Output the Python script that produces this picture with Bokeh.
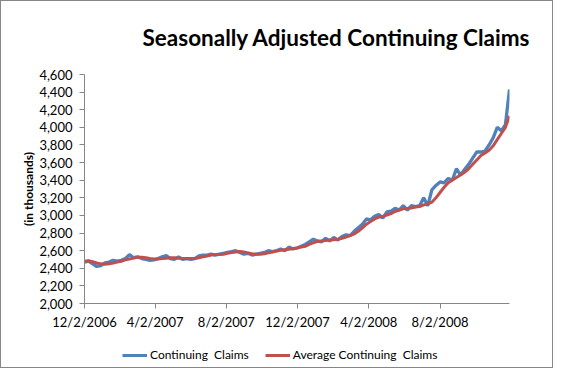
from datetime import date, timedelta, datetime
from bokeh.plotting import figure
from bokeh.layouts import column
from bokeh.models import (FixedTicker, NumeralTickFormatter, Legend, LegendItem,
                          ColumnDataSource, Title, Range1d)
from bokeh.embed import file_html
from bokeh.resources import INLINE

title_text = "Seasonally Adjusted Continuing Claims"
y_label = "(in thousands)"
series_names = ["Continuing  Claims", "Average Continuing  Claims"]
series_colors = ["#4F81BD", "#C0504D"]

start_date = date(2006, 12, 2)
n_weeks = 105

continuing_claims = [
    2470, 2480, 2450, 2420, 2430, 2460, 2470, 2490, 2480, 2490,
    2510, 2555, 2520, 2530, 2510, 2500, 2490, 2495, 2510, 2530,
    2545, 2510, 2500, 2530, 2500, 2510, 2500, 2510, 2540,
    2550, 2550, 2560, 2550, 2560, 2570, 2580, 2590, 2600, 2580,
    2560, 2570, 2550, 2560, 2570, 2580, 2600, 2590, 2600, 2620,
    2600, 2640, 2620, 2630, 2650, 2670, 2700, 2730, 2710, 2700,
    2740, 2710, 2750, 2720, 2760, 2780, 2770, 2820, 2860, 2900,
    2960, 2950, 2990, 3010, 2970, 3040, 3050, 3080, 3060, 3110,
    3060, 3110, 3100, 3110, 3200, 3110, 3290, 3340, 3380, 3370,
    3420, 3400, 3530, 3460, 3520, 3580, 3650, 3720, 3720, 3730,
    3800, 3880, 4000, 3960, 4030, 4430,
]

average_claims = [
    2480, 2485, 2475, 2460, 2450, 2445, 2450, 2460, 2470, 2480,
    2495, 2505, 2515, 2525, 2525, 2520, 2510, 2505, 2505, 2510,
    2515, 2520, 2520, 2515, 2510, 2510, 2510, 2510, 2520,
    2530, 2540, 2550, 2555, 2555, 2560, 2570, 2580, 2585, 2590,
    2585, 2575, 2565, 2560, 2560, 2565, 2575, 2585, 2595, 2605,
    2610, 2615, 2625, 2630, 2640, 2650, 2670, 2690, 2705, 2710,
    2715, 2720, 2725, 2730, 2740, 2755, 2770, 2790, 2820, 2860,
    2900, 2930, 2960, 2980, 2990, 3005, 3020, 3045, 3060, 3075,
    3080, 3085, 3095, 3100, 3120, 3130, 3150, 3200, 3260, 3320,
    3370, 3400, 3430, 3460, 3490, 3530, 3580, 3630, 3680, 3710,
    3740, 3790, 3860, 3930, 4000, 4130,
]

tick_dates = [date(2006, 12, 2), date(2007, 4, 2), date(2007, 8, 2),
              date(2007, 12, 2), date(2008, 4, 2), date(2008, 8, 2)]
tick_labels = ["12/2/2006", "4/2/2007", "8/2/2007", "12/2/2007", "4/2/2008", "8/2/2008"]
y_ticks = list(range(2000, 4601, 200))


def to_ms(d):
    return (datetime(d.year, d.month, d.day) - datetime(1970, 1, 1)).total_seconds() * 1000.0


dates = [start_date + timedelta(days=7 * i) for i in range(n_weeks)]
xs = [to_ms(d) for d in dates]
src = ColumnDataSource(dict(x=xs, cc=continuing_claims, avg=average_claims))

FONT = "Lato"
GREY = "#868686"
W = 551

p = figure(width=W, height=338, output_backend="svg", toolbar_location=None,
           x_range=Range1d(xs[0], xs[-1]), y_range=Range1d(2000, 4600),
           min_border_left=83, min_border_right=43, min_border_top=73, min_border_bottom=36)
p.outline_line_color = None
p.xgrid.grid_line_color = None
p.ygrid.grid_line_color = None
p.background_fill_color = "white"
p.border_fill_color = "white"

t = Title(text=title_text, align="left", offset=58, standoff=44, vertical_align="top",
          text_font=FONT, text_font_size="22.5px", text_font_style="bold", text_color="black")
p.add_layout(t, "above")

r1 = p.line("x", "cc", source=src, line_color=series_colors[0], line_width=3.3)
r2 = p.line("x", "avg", source=src, line_color=series_colors[1], line_width=3)

tick_ms = [to_ms(d) for d in tick_dates]
p.xaxis.ticker = FixedTicker(ticks=tick_ms)
p.xaxis.major_label_overrides = {tm: lab for tm, lab in zip(tick_ms, tick_labels)}
p.yaxis.ticker = FixedTicker(ticks=y_ticks)
p.yaxis.formatter = NumeralTickFormatter(format="0,0")

for ax in (p.xaxis[0], p.yaxis[0]):
    ax.axis_line_color = GREY
    ax.major_tick_line_color = GREY
    ax.minor_tick_line_color = None
    ax.major_tick_out = 5
    ax.major_tick_in = 0
    ax.major_label_text_font = FONT
    ax.major_label_text_font_size = "13px"
    ax.major_label_text_color = "black"

p.xaxis.major_label_standoff = 5
p.yaxis.major_label_standoff = 7
p.yaxis.axis_label = y_label
p.yaxis.axis_label_text_font = FONT
p.yaxis.axis_label_text_font_size = "12px"
p.yaxis.axis_label_text_font_style = "bold"
p.yaxis.axis_label_text_color = "black"
p.yaxis.axis_label_standoff = 0

# Legend strip: a separate figure, so the legend is not clipped by the main frame.
# Its stand-in renderers sit outside the strip's visible y-range.
lf = figure(width=W, height=28, output_backend="svg", toolbar_location=None,
            x_axis_location=None, y_axis_location=None,
            x_range=Range1d(0, 1), y_range=Range1d(0, 1),
            min_border=0)
lf.outline_line_color = None
lf.xgrid.grid_line_color = None
lf.ygrid.grid_line_color = None
lf.border_fill_color = "white"
lf.background_fill_color = "white"
lr1 = lf.line(x=[0, 1], y=[-5, -5], line_color=series_colors[0], line_width=3)
lr2 = lf.line(x=[0, 1], y=[-5, -5], line_color=series_colors[1], line_width=3)
legend = Legend(items=[LegendItem(label=series_names[0], renderers=[lr1]),
                       LegendItem(label=series_names[1], renderers=[lr2])],
                orientation="horizontal", location=(38, 5),
                label_text_font=FONT, label_text_font_size="12px", label_text_color="black",
                glyph_width=25, glyph_height=12, spacing=16, padding=0, margin=0,
                label_standoff=3,
                border_line_color=None, background_fill_alpha=0)
lf.add_layout(legend, "center")

layout = column(p, lf, spacing=0,
                styles={"border": "1px solid #868686"})

open("out.html", "w").write(file_html(layout, INLINE))
